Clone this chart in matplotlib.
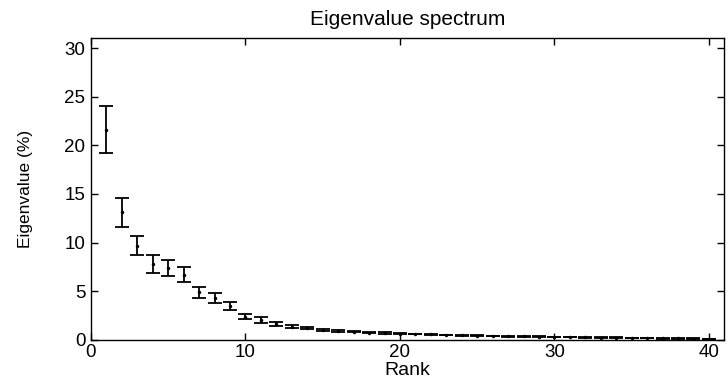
import numpy as np
import matplotlib
matplotlib.use('Agg')
import matplotlib.pyplot as plt

# eigenvalue spectrum (percent) with error bars
rank = np.arange(1, 41)
eig_mean = [21.6, 13.1, 9.7, 7.8, 7.4, 6.7, 4.9, 4.3, 3.5, 2.4,
            2.05, 1.6, 1.35, 1.2, 1.05, 0.9, 0.85, 0.75, 0.7, 0.65,
            0.6, 0.55, 0.5, 0.45, 0.42, 0.4, 0.37, 0.35, 0.32, 0.3,
            0.28, 0.26, 0.24, 0.22, 0.2, 0.18, 0.16, 0.14, 0.12, 0.1]
eig_err = [2.4, 1.5, 1.0, 0.9, 0.85, 0.8, 0.55, 0.5, 0.4, 0.3,
           0.3, 0.2, 0.15, 0.12, 0.1, 0.08, 0.07, 0.06, 0.06, 0.05,
           0.05, 0.05, 0.04, 0.04, 0.04, 0.04, 0.03, 0.03, 0.03, 0.03,
           0.03, 0.03, 0.03, 0.03, 0.03, 0.03, 0.03, 0.03, 0.03, 0.03]

plt.rcParams['font.family'] = ['Liberation Sans', 'DejaVu Sans']

fig = plt.figure(figsize=(7.28, 3.84), dpi=100)
ax = fig.add_axes([0.125, 0.115, 0.87, 0.785])

ax.errorbar(rank, eig_mean, yerr=eig_err, fmt='.', color='black',
            markersize=3, elinewidth=1.3, capsize=4.7, capthick=1.3)

ax.set_xlim(0, 41)
ax.set_ylim(0, 31)
ax.set_xticks([0, 10, 20, 30, 40])
ax.set_yticks([0, 5, 10, 15, 20, 25, 30])
ax.tick_params(direction='in', top=True, right=True, length=5,
               labelsize=13.5, width=1)
ax.tick_params(axis='x', pad=3)
ax.tick_params(axis='y', pad=4)
for s in ax.spines.values():
    s.set_linewidth(1)

ax.set_title('Eigenvalue spectrum', fontsize=15, pad=10)
ax.set_xlabel('Rank', fontsize=14, labelpad=1)
ax.set_ylabel('Eigenvalue (%)', fontsize=12.5)
ax.yaxis.set_label_coords(-0.092, 0.5)

fig.savefig('out.png', dpi=100)
